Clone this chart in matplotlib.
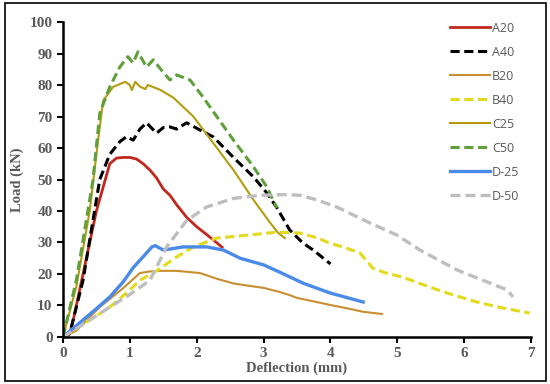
import matplotlib
matplotlib.use("Agg")
import matplotlib.pyplot as plt
from matplotlib.patches import Rectangle

# Data (deflection mm, load kN)
a20_x = [0, 0.1, 0.15, 0.3, 0.5, 0.7, 0.8, 0.9, 1.0, 1.1, 1.2, 1.3, 1.4, 1.5, 1.6, 1.7, 1.85, 2.0, 2.15, 2.25, 2.38]
a20_y = [0, 1, 5, 20, 40, 55, 56.8, 57, 57, 56.5, 55, 53, 50.5, 47, 45, 42, 38, 35, 32.5, 30.8, 28.5]

a40_x = [0, 0.1, 0.3, 0.55, 0.7, 0.85, 0.95, 1.05, 1.15, 1.25, 1.4, 1.5, 1.6, 1.7, 1.85, 2.05, 2.25, 2.55, 2.85, 3.05, 3.2, 3.39, 3.59, 3.75, 4.0]
a40_y = [0, 1, 18, 50, 58, 62, 63.6, 62.5, 66, 68, 64.7, 66.5, 66.7, 66, 68, 65.7, 63.5, 57, 50.8, 45.7, 41, 34, 29.8, 27.5, 23.2]

b20_x = [0, 0.2, 0.55, 0.9, 1.15, 1.3, 1.45, 1.7, 2.05, 2.3, 2.55, 2.8, 3.0, 3.24, 3.39, 3.5, 3.75, 3.99, 4.25, 4.49, 4.77]
b20_y = [0, 2, 9.5, 15.5, 20.3, 20.8, 21, 21, 20.3, 18.5, 17, 16.2, 15.6, 14.3, 13.3, 12.4, 11.3, 10.2, 9.1, 8, 7.3]

b40_x = [0, 0.2, 0.45, 0.7, 0.95, 1.15, 1.4, 1.7, 1.95, 2.3, 2.8, 3.2, 3.54, 3.8, 3.99, 4.2, 4.44, 4.55, 4.63, 4.8, 5.08, 5.4, 5.74, 6.19, 6.58, 6.98]
b40_y = [0, 3, 6, 9.5, 14, 18, 21, 25.4, 28.6, 31.4, 32.4, 33.3, 33, 31.5, 29.8, 28.5, 26.7, 24, 21.9, 20.5, 19, 16.5, 14, 11.1, 9.2, 7.6]

c25_x = [0, 0.2, 0.4, 0.5, 0.6, 0.75, 0.93, 1.0, 1.03, 1.08, 1.15, 1.23, 1.27, 1.45, 1.65, 1.95, 2.25, 2.55, 2.85, 3.09, 3.22, 3.32]
c25_y = [0, 16, 40, 58, 75, 79.4, 81, 80, 78.4, 81, 79.5, 78.7, 80, 78.5, 76, 70, 61.5, 53, 43.5, 36.5, 33, 31.4]

c50_x = [0, 0.2, 0.45, 0.55, 0.7, 0.85, 0.97, 1.05, 1.12, 1.25, 1.35, 1.5, 1.6, 1.7, 1.9, 2.1, 2.3, 2.55, 2.85, 3.05, 3.14, 3.2]
c50_y = [0, 18, 50, 71, 79.4, 85.7, 89, 87, 90.5, 85.7, 88, 84, 81.6, 83.2, 81.6, 76, 70, 62.5, 54, 47.6, 43.5, 41]

d25_x = [0, 0.3, 0.5, 0.7, 0.9, 1.05, 1.2, 1.33, 1.38, 1.5, 1.8, 2.15, 2.4, 2.65, 3.0, 3.24, 3.59, 3.99, 4.49]
d25_y = [0, 5.4, 9, 12.7, 17.5, 22, 25.5, 28.6, 29, 27.6, 28.6, 28.6, 27.6, 25, 22.9, 20.6, 17.1, 14, 11.1]

d50_x = [0, 0.3, 0.7, 1.0, 1.3, 1.55, 1.85, 2.15, 2.55, 2.95, 3.3, 3.54, 3.8, 4.09, 4.59, 4.99, 5.34, 5.89, 6.34, 6.65, 6.73]
d50_y = [0, 4, 9.5, 13.5, 18, 28.6, 37, 41.3, 44, 45, 45.2, 45, 43.5, 41.3, 36.2, 32.4, 27.6, 21.3, 17.5, 14.9, 12.7]

series = [
    ("A20", a20_x, a20_y, "#C0281E", "-", 2.0),
    ("A40", a40_x, a40_y, "#000000", (0, (3, 1.5)), 2.2),
    ("B20", b20_x, b20_y, "#C98E30", "-", 1.5),
    ("B40", b40_x, b40_y, "#E3DA1C", (0, (3, 1.5)), 2.2),
    ("C25", c25_x, c25_y, "#B59C0E", "-", 1.5),
    ("C50", c50_x, c50_y, "#5FA03C", (0, (3, 1.5)), 2.2),
    ("D-25", d25_x, d25_y, "#4A8BEA", "-", 2.4),
    ("D-50", d50_x, d50_y, "#BEBEBE", (0, (3, 1.5)), 2.4),
]

fig = plt.figure(figsize=(5.5, 3.84), dpi=100)
ax = fig.add_axes([0.1145, 0.1224, 0.851, 0.8203])

for label, xs, ys, c, ls, lw in series:
    ax.plot(xs, ys, color=c, linestyle=ls, linewidth=lw, label=label)

ax.set_xlim(0, 7)
ax.set_ylim(0, 100)
ax.set_xticks(range(0, 8))
ax.set_yticks(range(0, 101, 10))
for s in ["top", "right"]:
    ax.spines[s].set_visible(False)
for s in ["left", "bottom"]:
    ax.spines[s].set_linewidth(1.8)
ax.tick_params(direction="out", length=4, width=1.5, colors="black", labelcolor="#595959")
for lab in ax.get_xticklabels() + ax.get_yticklabels():
    lab.set_fontfamily("Liberation Serif")
    lab.set_fontweight("bold")
    lab.set_fontsize(11)

ax.set_xlabel("Deflection (mm)", family="Liberation Serif", fontweight="bold", fontsize=10.5, color="#595959", labelpad=1)
ax.set_ylabel("Load (kN)", family="Liberation Serif", fontweight="bold", fontsize=10.5, color="#595959", labelpad=4)

leg = ax.legend(loc="upper left", bbox_to_anchor=(0.817, 1.017), frameon=False,
                prop={"family": "Open Sans", "size": 9}, labelspacing=0.88,
                handlelength=3.2, handletextpad=0.15, borderaxespad=0.0)
for t in leg.get_texts():
    t.set_color("#595959")

fig.patches.append(Rectangle((0.009, 0.008), 0.983, 0.984, transform=fig.transFigure,
                             fill=False, edgecolor="black", linewidth=1.2))

fig.savefig("out.png", dpi=100)
